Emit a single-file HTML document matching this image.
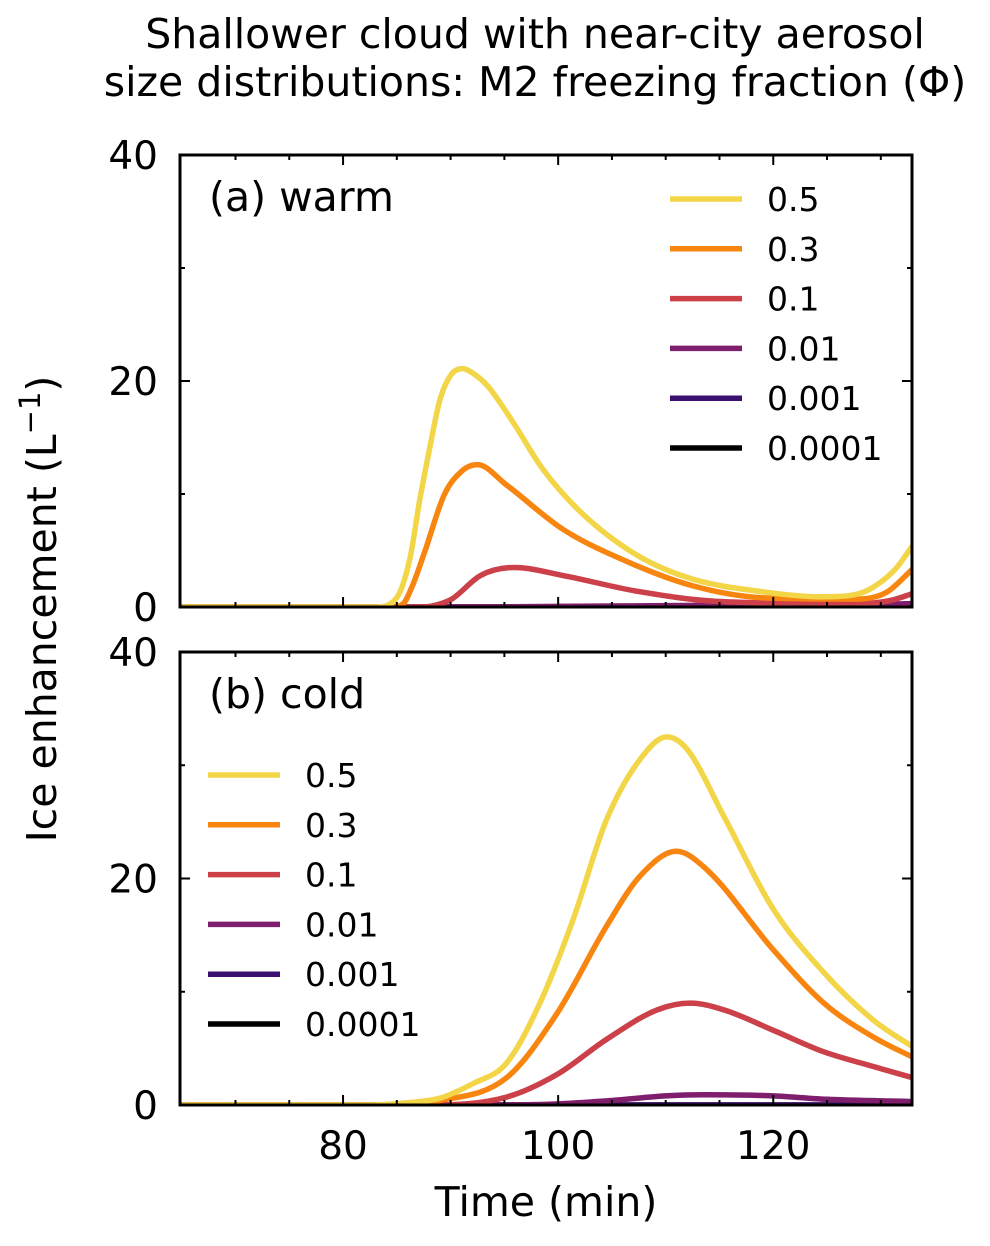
<!DOCTYPE html>
<html><head><meta charset="utf-8"><style>
body{margin:0;background:#fff}
svg text{font-family:"DejaVu Sans","Liberation Sans",sans-serif;fill:#000}
</style></head><body>
<svg id="chart" width="990" height="1241" xmlns="http://www.w3.org/2000/svg">
<text x="535" y="48" font-size="41" text-anchor="middle">Shallower cloud with near-city aerosol</text>
<text x="535" y="96" font-size="41" text-anchor="middle">size distributions: M2 freezing fraction (Φ)</text>
<text transform="translate(56,609) rotate(-90)" font-size="41" text-anchor="middle">Ice enhancement (L<tspan dy="-16" font-size="29">−1</tspan><tspan dy="16">)</tspan></text>
<text x="546" y="1216" font-size="41" text-anchor="middle">Time (min)</text>
<g id="g"></g>
</svg>
<script>
const seriesLabels=["0.5","0.3","0.1","0.01","0.001","0.0001"];
const seriesColors=["#f3d548","#f8850f","#cb4049","#7e1e6c","#3b0f6f","#000000"];
const xTicks=[80,100,120];
const yTicks=[0,20,40];
// panel a (warm)
const aT05=[65,83,84.9,86.2,87.1,88,89,90,91.1,92.2,93.5,95.9,98.5,102.1,107.3,112.4,119.4,124.5,127,128.6,130,131.4,133];
const aV05=[0,0,0.7,4.2,9.3,13.8,18.3,20.5,21.1,20.6,19.5,16.2,12.3,8.4,4.6,2.5,1.3,0.9,1.0,1.4,2.2,3.4,5.5];
const aT03=[65,84.5,85.6,86.5,87.6,89.4,91,92.5,95.2,100.4,105.5,112.4,119.4,127.9,129.5,130.7,133];
const aV03=[0,0,0.3,2,4.9,9.9,12,12.6,10.8,6.9,4.4,1.9,0.8,0.7,0.9,1.4,3.4];
const aT01=[65,87,88.3,90.1,92.8,95.9,100.4,107.3,114.8,127.9,131,133];
const aV01=[0,0,0.1,0.7,2.8,3.5,2.8,1.4,0.5,0.3,0.6,1.2];
const aT001=[65,90,100,110,120,130,133];
const aV001=[0,0,0.05,0.12,0.2,0.25,0.3];
const aTz=[65,133];
const aVz=[0,0];
// panel b (cold)
const bT05=[65,82,86,89,92.1,95.2,98.3,101.4,104.5,107.6,110.1,112,115.4,120,124.7,129.3,133];
const bV05=[0,0,0.2,0.6,1.9,3.7,9.0,16.4,25.2,30.5,32.5,31.4,25.5,17.3,11.7,7.5,5.1];
const bT03=[65,83,89,95.2,99.9,104.5,107.6,111,113.8,120,124.7,129.3,133];
const bV03=[0,0,0.4,2.4,8.1,15.8,20.2,22.4,20.8,13.7,9.0,6.0,4.2];
const bT01=[65,88,95.2,99.9,104.5,109.2,112.3,115.4,120,124.7,129.3,133];
const bV01=[0,0,0.7,2.7,5.8,8.4,9.0,8.4,6.6,4.7,3.4,2.4];
const bT001=[65,95,100,105,110,113.5,120,125,133];
const bV001=[0,0,0.1,0.4,0.8,0.9,0.8,0.5,0.3];
const bTz=[65,133];
const bVz=[0,0];

const NS="http://www.w3.org/2000/svg";
const g=document.getElementById('g');
const X0=180,X1=912,T0=64.84,T1=132.9;
function xs(t){return X0+(t-T0)/(T1-T0)*(X1-X0);}
function mk(tag,attrs,parent){const e=document.createElementNS(NS,tag);for(const k in attrs)e.setAttribute(k,attrs[k]);(parent||g).appendChild(e);return e;}
function monoPath(X,Y){
 const n=X.length;if(n<3)return 'M'+X[0]+','+Y[0]+' L'+X[1]+','+Y[1];
 const d=[],m=[];
 for(let i=0;i<n-1;i++)d.push((Y[i+1]-Y[i])/(X[i+1]-X[i]));
 m[0]=d[0];m[n-1]=d[n-2];
 for(let i=1;i<n-1;i++){m[i]=(d[i-1]*d[i]<=0)?0:(d[i-1]+d[i])/2;}
 for(let i=0;i<n-1;i++){if(d[i]===0){m[i]=0;m[i+1]=0;continue;}const a=m[i]/d[i],b=m[i+1]/d[i],s=a*a+b*b;if(s>9){const t=3/Math.sqrt(s);m[i]=t*a*d[i];m[i+1]=t*b*d[i];}}
 let p='M'+X[0].toFixed(1)+','+Y[0].toFixed(1);
 for(let i=0;i<n-1;i++){const h=(X[i+1]-X[i])/3;
  p+=' C'+(X[i]+h).toFixed(1)+','+(Y[i]+m[i]*h).toFixed(1)+' '+(X[i+1]-h).toFixed(1)+','+(Y[i+1]-m[i+1]*h).toFixed(1)+' '+X[i+1].toFixed(1)+','+Y[i+1].toFixed(1);}
 return p;
}
const panels=[
 {top:155,bot:607,name:"warm",label:"(a) warm",ts:[aT05,aT03,aT01,aT001,aTz,aTz],vs:[aV05,aV03,aV01,aV001,aVz,aVz],lx:670,ly:199},
 {top:652,bot:1105,name:"cold",label:"(b) cold",ts:[bT05,bT03,bT01,bT001,bTz,bTz],vs:[bV05,bV03,bV01,bV001,bVz,bVz],lx:208,ly:775}
];
panels.forEach((p,pi)=>{
 const ys=v=>p.bot-v/40*(p.bot-p.top);
 const pg=mk('g',{});
 
 
 const clip=mk('clipPath',{id:'clip'+pi},pg);
 mk('rect',{x:X0,y:p.top,width:X1-X0,height:p.bot-p.top},clip);
 for(let s=seriesLabels.length-1;s>=0;s--){
  const X=p.ts[s].map(xs),Y=p.vs[s].map(ys);
  const pl=mk('path',{d:monoPath(X,Y),fill:'none',stroke:seriesColors[s],'stroke-width':5.5,'stroke-linejoin':'round','clip-path':'url(#clip'+pi+')'},pg);
  
  
 }
 const fr=mk('rect',{x:X0,y:p.top,width:X1-X0,height:p.bot-p.top,fill:'none',stroke:'#000','stroke-width':3},pg);
 
 
 for(let t=70;t<=130;t+=5){
  const maj=xTicks.includes(t);const L=maj?10:5;const x=xs(t);
  mk('line',{x1:x,x2:x,y1:p.bot,y2:p.bot-L,stroke:'#000','stroke-width':2},pg);
  mk('line',{x1:x,x2:x,y1:p.top,y2:p.top+L,stroke:'#000','stroke-width':2},pg);
 }
 if(pi===1){xTicks.forEach(t=>{const tl=mk('text',{x:xs(t),y:1159,'font-size':39,'text-anchor':'middle'},pg);tl.textContent=t;
  
  });}
 for(let v=0;v<=40;v+=10){
  const maj=yTicks.includes(v);const L=maj?10:5;const y=ys(v);
  mk('line',{x1:X0,x2:X0+L,y1:y,y2:y,stroke:'#000','stroke-width':2},pg);
  mk('line',{x1:X1,x2:X1-L,y1:y,y2:y,stroke:'#000','stroke-width':2},pg);
 }
 yTicks.forEach(v=>{const tl=mk('text',{x:158,y:ys(v)+14,'font-size':39,'text-anchor':'end'},pg);tl.textContent=v;
  
  });
 const pl=mk('text',{x:209,y:p.top+56,'font-size':41},pg);pl.textContent=p.label;
 
 
 seriesLabels.forEach((lab,s)=>{
  const y=p.ly+s*49.8;
  const le=mk('g',{},pg);
  
  
  mk('line',{x1:p.lx,x2:p.lx+72,y1:y,y2:y,stroke:seriesColors[s],'stroke-width':5.5},le);
  const t=mk('text',{x:p.lx+97,y:y+12,'font-size':33},le);t.textContent=lab;
 });
});
</script>
</body></html>
